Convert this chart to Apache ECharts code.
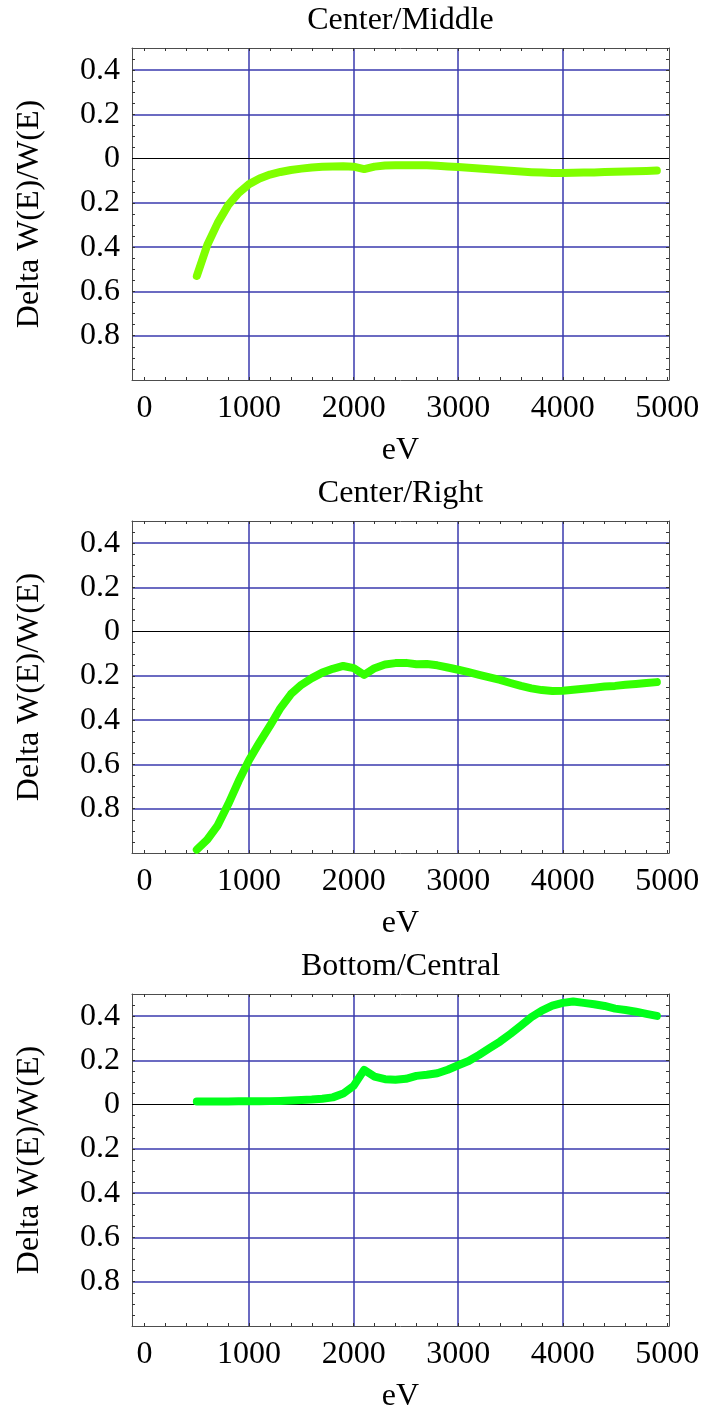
<!DOCTYPE html>
<html>
<head>
<meta charset="utf-8">
<script src="https://cdn.jsdelivr.net/npm/echarts@6/dist/echarts.min.js"></script>
<style>
  html, body { margin: 0; padding: 0; background: #ffffff; }
  #chart { width: 704px; height: 1414px; }
</style>
</head>
<body>
<div id="chart"></div>
<script>
// Photon energy (eV) at which each ratio was evaluated
const energy = [500, 600, 700, 800, 900, 1000, 1100, 1200, 1300, 1400,
  1500, 1600, 1700, 1800, 1900, 2000, 2100, 2200, 2300, 2400,
  2500, 2600, 2700, 2800, 2900, 3000, 3100, 3200, 3300, 3400,
  3500, 3600, 3700, 3800, 3900, 4000, 4100, 4200, 4300, 4400,
  4500, 4600, 4700, 4800, 4900];

// Delta W(E)/W(E) for each detector pair
const centerMiddle = [-0.53, -0.39, -0.29, -0.21, -0.155, -0.115, -0.09, -0.072, -0.06, -0.051,
  -0.045, -0.04, -0.037, -0.035, -0.034, -0.036, -0.047, -0.036, -0.031, -0.030,
  -0.030, -0.030, -0.030, -0.032, -0.035, -0.038, -0.041, -0.044, -0.048, -0.051,
  -0.055, -0.058, -0.061, -0.063, -0.065, -0.065, -0.064, -0.063, -0.062, -0.060,
  -0.059, -0.058, -0.057, -0.056, -0.054];

const centerRight = [-0.985, -0.94, -0.875, -0.78, -0.675, -0.58, -0.50, -0.425, -0.345, -0.282,
  -0.24, -0.21, -0.185, -0.168, -0.155, -0.165, -0.195, -0.165, -0.148, -0.142,
  -0.141, -0.147, -0.146, -0.152, -0.162, -0.172, -0.183, -0.195, -0.207, -0.218,
  -0.232, -0.245, -0.256, -0.264, -0.268, -0.267, -0.262, -0.258, -0.253, -0.248,
  -0.245, -0.240, -0.236, -0.232, -0.228];

const bottomCentral = [0.014, 0.014, 0.014, 0.014, 0.015, 0.015, 0.015, 0.016, 0.017, 0.019,
  0.021, 0.023, 0.027, 0.033, 0.05, 0.085, 0.157, 0.127, 0.115, 0.113,
  0.117, 0.130, 0.135, 0.142, 0.158, 0.178, 0.197, 0.225, 0.255, 0.285,
  0.32, 0.357, 0.395, 0.425, 0.447, 0.460, 0.466, 0.460, 0.454, 0.446,
  0.434, 0.428, 0.420, 0.410, 0.401];

const panelTitles = ['Center/Middle', 'Center/Right', 'Bottom/Central'];
const panelSeries = [centerMiddle, centerRight, bottomCentral];
const panelColors = ['#80ff00', '#33ff00', '#00ff1a'];

// Tick positions
const xLabelValues = [0, 1000, 2000, 3000, 4000, 5000];
const xGridValues = [1000, 2000, 3000, 4000];
const yLabelValues = [-0.8, -0.6, -0.4, -0.2, 0, 0.2, 0.4];
const yGridValues = [-0.8, -0.6, -0.4, -0.2, 0.2, 0.4];
const xMinorTicks = [];
for (let v = 0; v <= 5000; v += 200) xMinorTicks.push(v);
const yMinorTicks = [];
for (let k = -19; k <= 9; k++) yMinorTicks.push(Math.round(k * 5) / 100);

const X_MIN = -120, X_MAX = 5016;
const Y_MIN = -1, Y_MAX = 0.5;

const FONT = "Liberation Serif";
const GRID_BLUE = '#3a3aae';
const FRAME = { show: true, onZero: false, lineStyle: { color: '#4d4d4d', width: 1 } };
const textStyle = { fontFamily: FONT, fontSize: 32, color: '#000000' };
const richSerif = { t: { fontFamily: FONT, fontSize: 32, color: '#000000' } };

const gridTops = [48, 521, 994];
const GRID_LEFT = 132, GRID_W = 537, GRID_H = 332;

const grids = [], xAxes = [], yAxes = [], series = [], titles = [];

function xLabel(v) {
  return '{t|' + v + '}';
}
function yLabel(v) {
  return '{t|' + parseFloat(Math.abs(v).toFixed(2)) + '}';
}

gridTops.forEach(function (top, g) {
  grids.push({ left: GRID_LEFT, top: top, width: GRID_W, height: GRID_H, containLabel: false });

  titles.push({
    text: panelTitles[g], left: GRID_LEFT + GRID_W / 2, top: top - 43, padding: 0,
    textAlign: 'center', textStyle: Object.assign({ fontWeight: 'normal' }, textStyle)
  });

  // bottom frame edge with labels
  xAxes.push({
    gridIndex: g, type: 'value', position: 'bottom', min: X_MIN, max: X_MAX,
    axisLine: FRAME,
    axisTick: { show: true, inside: true, length: 3, customValues: xMinorTicks, lineStyle: { color: '#333' } },
    axisLabel: Object.assign({ show: true, customValues: xLabelValues, margin: 13, formatter: xLabel, rich: richSerif }, textStyle),
    splitLine: { show: false },
    name: 'eV', nameLocation: 'middle', nameGap: 55, nameTextStyle: textStyle
  });
  // top frame edge
  xAxes.push({
    gridIndex: g, type: 'value', position: 'top', min: X_MIN, max: X_MAX,
    axisLine: FRAME,
    axisTick: { show: true, inside: true, length: 3, customValues: xMinorTicks, lineStyle: { color: '#333' } },
    axisLabel: { show: false }, splitLine: { show: false }
  });
  // vertical grid lines
  xAxes.push({
    gridIndex: g, type: 'value', position: 'bottom', min: X_MIN, max: X_MAX,
    axisLine: { show: false, onZero: false },
    axisTick: { show: false, customValues: xGridValues },
    axisLabel: { show: false },
    splitLine: { show: true, lineStyle: { color: GRID_BLUE, width: 1.5 } }
  });

  // left frame edge with labels
  yAxes.push({
    gridIndex: g, type: 'value', position: 'left', min: Y_MIN, max: Y_MAX,
    axisLine: FRAME,
    axisTick: { show: true, inside: true, length: 3, customValues: yMinorTicks, lineStyle: { color: '#333' } },
    axisLabel: Object.assign({ show: true, customValues: yLabelValues, margin: 12, formatter: yLabel, rich: richSerif }, textStyle),
    splitLine: { show: false },
    name: 'Delta W(E)/W(E)', nameLocation: 'middle', nameRotate: 90, nameGap: 86, nameTextStyle: textStyle
  });
  // right frame edge
  yAxes.push({
    gridIndex: g, type: 'value', position: 'right', min: Y_MIN, max: Y_MAX,
    axisLine: FRAME,
    axisTick: { show: true, inside: true, length: 3, customValues: yMinorTicks, lineStyle: { color: '#333' } },
    axisLabel: { show: false }, splitLine: { show: false }
  });
  // horizontal grid lines
  yAxes.push({
    gridIndex: g, type: 'value', position: 'left', min: Y_MIN, max: Y_MAX,
    axisLine: { show: false, onZero: false },
    axisTick: { show: false, customValues: yGridValues },
    axisLabel: { show: false },
    splitLine: { show: true, lineStyle: { color: GRID_BLUE, width: 1.5 } }
  });

  series.push({
    type: 'line', xAxisIndex: g * 3, yAxisIndex: g * 3,
    data: energy.map(function (e, i) { return [e, panelSeries[g][i]]; }),
    showSymbol: false, symbol: 'none', smooth: false, silent: true, z: 10,
    lineStyle: { color: panelColors[g], width: 8, cap: 'round', join: 'round' },
    markLine: {
      silent: true, symbol: ['none', 'none'], z: 1,
      label: { show: false },
      lineStyle: { color: '#000000', width: 1.2, type: 'solid' },
      emphasis: { disabled: true },
      data: [{ yAxis: 0 }]
    }
  });
});

const chart = echarts.init(document.getElementById('chart'), null, { renderer: 'canvas' });
chart.setOption({
  animation: false,
  backgroundColor: '#ffffff',
  textStyle: { fontFamily: FONT },
  title: titles,
  grid: grids,
  xAxis: xAxes,
  yAxis: yAxes,
  series: series
});
</script>
</body>
</html>
